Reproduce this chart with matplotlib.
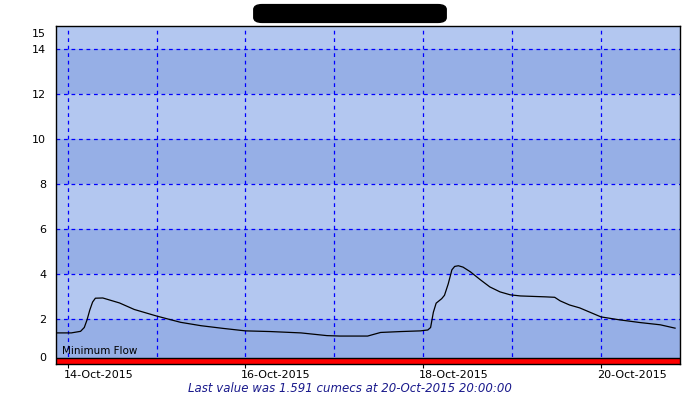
import matplotlib
matplotlib.use('Agg')
import matplotlib.pyplot as plt
import matplotlib.dates as mdates
import matplotlib.transforms as mtransforms
from matplotlib.patches import FancyBboxPatch
import pandas as pd

##### river flow readings (cumecs)
times = ['2015-10-13 21:00', '2015-10-14 01:00', '2015-10-14 03:30', '2015-10-14 04:30',
         '2015-10-14 05:15', '2015-10-14 06:00', '2015-10-14 06:45', '2015-10-14 07:30',
         '2015-10-14 09:30', '2015-10-14 14:00',
         '2015-10-14 18:00', '2015-10-15 00:00', '2015-10-15 06:30', '2015-10-15 12:00',
         '2015-10-15 18:00', '2015-10-16 00:00', '2015-10-16 06:45', '2015-10-16 15:00',
         '2015-10-16 22:00', '2015-10-17 01:30', '2015-10-17 06:00', '2015-10-17 09:00',
         '2015-10-17 12:30', '2015-10-17 18:00', '2015-10-17 23:15', '2015-10-18 01:15',
         '2015-10-18 02:00', '2015-10-18 02:45', '2015-10-18 03:30', '2015-10-18 05:00',
         '2015-10-18 05:45', '2015-10-18 06:45',
         '2015-10-18 07:45', '2015-10-18 08:30', '2015-10-18 09:30', '2015-10-18 10:45',
         '2015-10-18 12:45',
         '2015-10-18 15:30', '2015-10-18 18:00', '2015-10-18 20:45', '2015-10-18 23:30',
         '2015-10-19 02:15', '2015-10-19 09:00', '2015-10-19 11:30', '2015-10-19 13:00',
         '2015-10-19 15:30', '2015-10-19 18:15', '2015-10-20 00:00', '2015-10-20 05:00',
         '2015-10-20 10:30', '2015-10-20 16:00', '2015-10-20 20:00']
flow = [1.38, 1.38, 1.45, 1.62,
        1.96, 2.40, 2.75, 2.92,
        2.93, 2.71,
        2.42, 2.13, 1.85, 1.70,
        1.58, 1.47, 1.44, 1.38,
        1.26, 1.24, 1.24, 1.24,
        1.40, 1.44, 1.47, 1.51,
        1.62, 2.30, 2.70, 2.90,
        3.05, 3.55,
        4.18, 4.33, 4.36, 4.30,
        4.09,
        3.73, 3.42, 3.20, 3.07,
        3.02, 2.98, 2.96, 2.80,
        2.62, 2.49, 2.09, 1.96,
        1.84, 1.74, 1.591]
min_flow = 0.27
y_ticks = [0, 2, 4, 6, 8, 10, 12, 14, 15]
band_edges = [0, 2, 4, 6, 8, 10, 12, 14, 15]

light = '#b3c7f0'
dark = '#96afe6'

t = pd.to_datetime(times)
x0 = pd.Timestamp('2015-10-13 20:52')
x1 = pd.Timestamp('2015-10-20 21:20')

fig = plt.figure(figsize=(7, 4), dpi=100)
ax = fig.add_axes([56/700, 36/400, 624/700, 338/400])

# alternating bands every 2 units, darker from 0 upwards
for k in range(len(band_edges) - 1):
    ax.axhspan(band_edges[k], band_edges[k+1], color=dark if k % 2 == 0 else light, lw=0, zorder=0)

# grid
for yv in y_ticks[1:-1]:
    ax.axhline(yv, color='#0000ff', lw=0.9, ls=(0, (3, 3)), zorder=1)
for d in pd.date_range('2015-10-14', '2015-10-20', freq='D'):
    ax.axvline(d, color='#0000ff', lw=0.9, ls=(0, (3, 3)), zorder=1)

# minimum flow band
ax.axhspan(0, min_flow, color='#ff0000', lw=0, zorder=2)
ax.axhline(min_flow, color='black', lw=1.0, zorder=3)
ax.text(x0 + pd.Timedelta(hours=1.5), min_flow + 0.08, 'Minimum Flow', fontsize=7.5,
        ha='left', va='bottom', zorder=4)

ax.plot(t, flow, color='black', lw=0.9, zorder=4)

ax.set_xlim(x0, x1)
ax.set_ylim(0, 15)
ax.set_yticks(y_ticks)
ax.tick_params(axis='y', length=0, pad=7, labelsize=8)
label_days = pd.date_range('2015-10-14', '2015-10-20', freq='2D')
ax.set_xticks(label_days)
ax.xaxis.set_major_formatter(mdates.DateFormatter('%d-%b-%Y'))
ax.tick_params(axis='x', length=3, pad=1.5, labelsize=8)
shift = mtransforms.ScaledTranslation(-3/72, 0, fig.dpi_scale_trans)
for lab in ax.get_xticklabels():
    lab.set_ha('left')
    lab.set_transform(lab.get_transform() + shift)
ylabs = ax.get_yticklabels()
ylabs[0].set_transform(ylabs[0].get_transform() + mtransforms.ScaledTranslation(0, 5/72, fig.dpi_scale_trans))
ylabs[-1].set_transform(ylabs[-1].get_transform() + mtransforms.ScaledTranslation(0, -5/72, fig.dpi_scale_trans))
for s in ax.spines.values():
    s.set_linewidth(1.0)

fig.text(0.5, 11/400, 'Last value was %.3f cumecs at 20-Oct-2015 20:00:00' % flow[-1],
         ha='center', va='center', fontsize=8.5, style='italic', color='#1a1a8c')

# redacted title
fig.patches.append(FancyBboxPatch((258/700, 380/400), 184/700, 13/400,
                                  boxstyle='round,pad=0.006,rounding_size=0.012',
                                  transform=fig.transFigure, fc='black', ec='black'))

fig.savefig('out.png', dpi=100)
